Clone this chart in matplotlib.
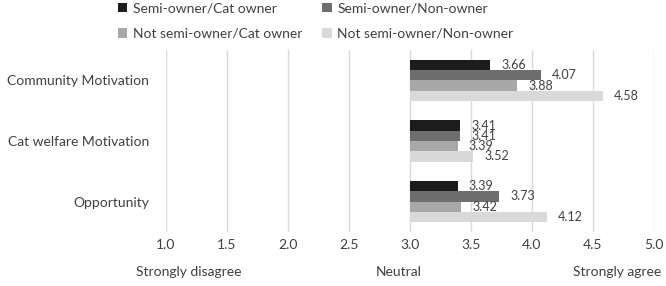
import numpy as np
import matplotlib
matplotlib.use("Agg")
import matplotlib.pyplot as plt

plt.rcParams['font.family'] = ['Lato', 'DejaVu Sans']

categories = ["Community Motivation", "Cat welfare Motivation", "Opportunity"]
series_names = ["Semi-owner/Cat owner", "Semi-owner/Non-owner",
                "Not semi-owner/Cat owner", "Not semi-owner/Non-owner"]
semi_cat = [3.66, 3.41, 3.39]
semi_non = [4.07, 3.41, 3.73]
notsemi_cat = [3.88, 3.39, 3.42]
notsemi_non = [4.58, 3.52, 4.12]
series_values = [semi_cat, semi_non, notsemi_cat, notsemi_non]
colors = ["#1c1c1c", "#6e6e6e", "#a8a8a8", "#d9d9d9"]
xticks = [1.0, 1.5, 2.0, 2.5, 3.0, 3.5, 4.0, 4.5, 5.0]
scale_labels = ["Strongly disagree", "Neutral", "Strongly agree"]
origin = 3.0

text_color = "#404040"

fig = plt.figure(figsize=(6.66, 2.86), dpi=100)
ax = fig.add_axes([0.249, 0.189, 0.733, 0.636])

y = np.arange(len(categories))
h = 0.17
offsets = [-1.5 * h, -0.5 * h, 0.5 * h, 1.5 * h]
handles = []
for vals, name, col, off in zip(series_values, series_names, colors, offsets):
    vals = np.array(vals)
    bars = ax.barh(y + off, vals - origin, left=origin, height=h, color=col,
                   label=name, zorder=3)
    ax.bar_label(bars, labels=[f"{v:.2f}" for v in vals], padding=8,
                 fontsize=9, color=text_color)
    handles.append(bars)

ax.set_xlim(1.0, 5.0)
ax.set_ylim(2.5, -0.5)
ax.set_xticks(xticks)
ax.set_xticklabels([f"{t:.1f}" for t in xticks], fontsize=10, color=text_color)
ax.set_yticks(y)
ax.set_yticklabels(categories, fontsize=10, color=text_color)
ax.tick_params(axis='both', length=0)
ax.tick_params(axis='y', pad=12)
ax.tick_params(axis='x', pad=5)
ax.grid(axis='x', color="#d9d9d9", linewidth=1, zorder=0)
for s in ax.spines.values():
    s.set_visible(False)

order = [0, 2, 1, 3]
fig.legend(handles=[handles[i] for i in order],
           labels=[series_names[i] for i in order], ncol=2,
           loc='upper left', bbox_to_anchor=(0.158, 1.035), frameon=False,
           fontsize=10, handlelength=0.7, handleheight=0.7, handletextpad=0.4,
           columnspacing=1.4, labelcolor=text_color, labelspacing=0.95)

for xc, lab in zip([0.283, 0.598, 0.926], scale_labels):
    fig.text(xc, 0.049, lab, ha='center', va='center', fontsize=10,
             color=text_color)

fig.savefig("out.png", dpi=100)
